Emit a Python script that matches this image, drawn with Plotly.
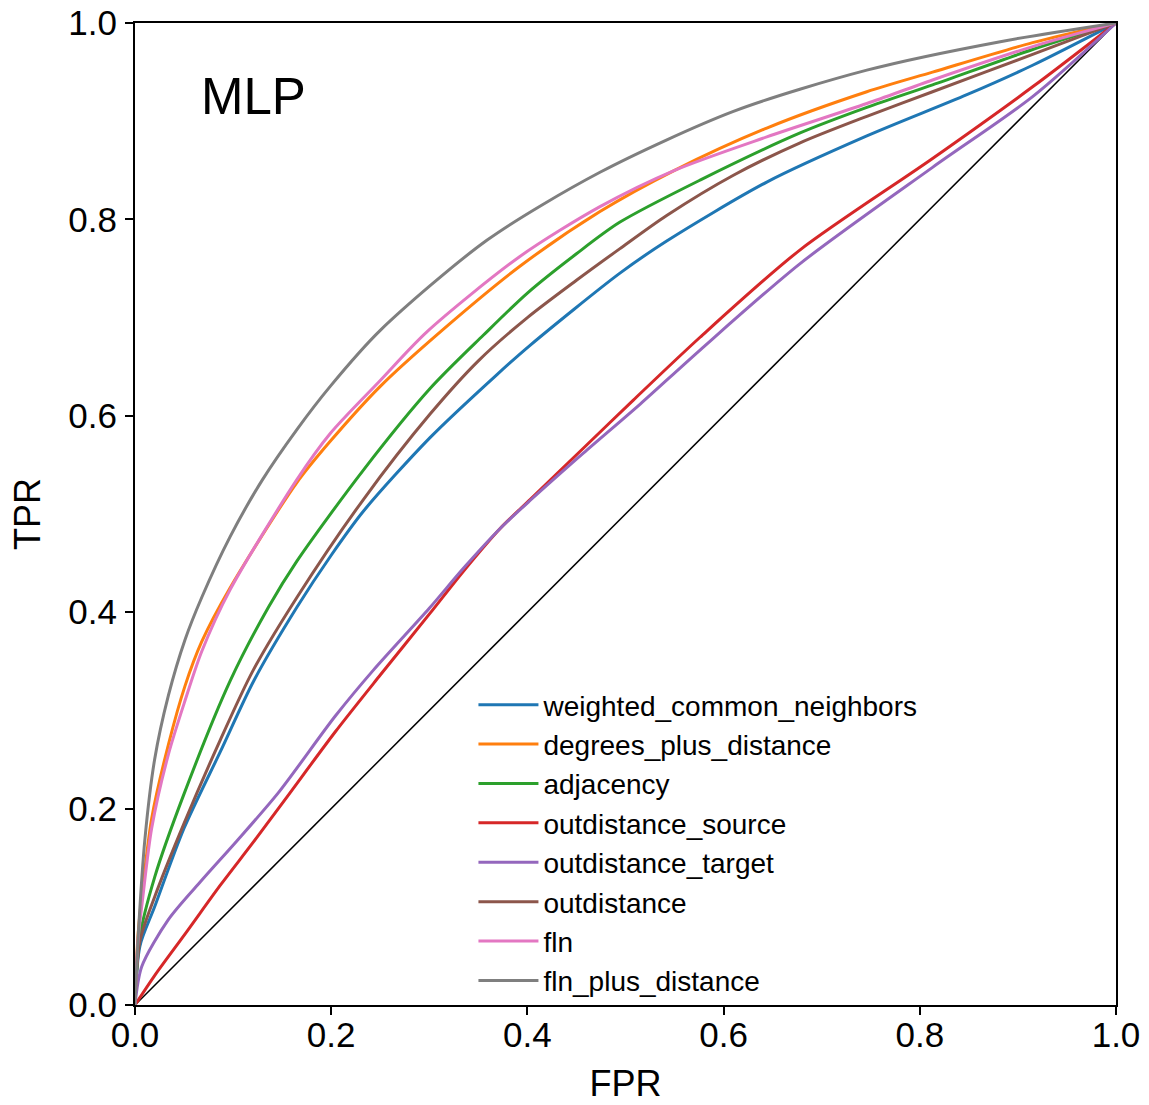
import plotly.graph_objects as go

# ---- data ----
names = ["weighted_common_neighbors", "degrees_plus_distance", "adjacency",
         "outdistance_source", "outdistance_target", "outdistance", "fln",
         "fln_plus_distance"]
colors = ["#1f77b4", "#ff7f0e", "#2ca02c", "#d62728", "#9467bd", "#8c564b",
          "#e377c2", "#7f7f7f"]

wcn_fpr = [0, 0.005, 0.02, 0.05, 0.087, 0.121, 0.165, 0.2, 0.233, 0.301, 0.369, 0.403, 0.494, 0.542, 0.644, 0.746, 0.848, 0.915, 1]
wcn_tpr = [0, 0.06, 0.10, 0.18, 0.258, 0.33, 0.405, 0.458, 0.503, 0.578, 0.642, 0.672, 0.745, 0.778, 0.838, 0.885, 0.927, 0.957, 1]

dpd_fpr = [0, 0.003, 0.008, 0.017, 0.034, 0.051, 0.068, 0.097, 0.165, 0.199, 0.25, 0.313, 0.392, 0.474, 0.55, 0.644, 0.746, 0.813, 0.915, 1]
dpd_tpr = [0, 0.07, 0.12, 0.19, 0.265, 0.325, 0.37, 0.425, 0.532, 0.574, 0.63, 0.687, 0.752, 0.808, 0.85, 0.893, 0.93, 0.95, 0.98, 1]

adj_fpr = [0, 0.005, 0.02, 0.05, 0.097, 0.136, 0.165, 0.233, 0.301, 0.355, 0.40, 0.45, 0.494, 0.576, 0.678, 0.746, 0.813, 0.915, 1]
adj_tpr = [0, 0.07, 0.13, 0.215, 0.33, 0.405, 0.452, 0.545, 0.628, 0.682, 0.725, 0.765, 0.797, 0.84, 0.888, 0.914, 0.937, 0.973, 1]

ods_fpr = [0, 0.02, 0.053, 0.087, 0.12, 0.155, 0.204, 0.25, 0.30, 0.335, 0.372, 0.403, 0.457, 0.508, 0.576, 0.678, 0.813, 0.915, 1]
ods_tpr = [0, 0.03, 0.075, 0.122, 0.165, 0.212, 0.278, 0.336, 0.398, 0.442, 0.485, 0.515, 0.567, 0.616, 0.68, 0.769, 0.862, 0.935, 1]

odt_fpr = [0, 0.0068, 0.034, 0.068, 0.102, 0.146, 0.204, 0.243, 0.30, 0.335, 0.372, 0.403, 0.457, 0.515, 0.576, 0.678, 0.813, 0.915, 1]
odt_tpr = [0, 0.039, 0.087, 0.127, 0.165, 0.216, 0.294, 0.341, 0.404, 0.445, 0.485, 0.514, 0.562, 0.612, 0.667, 0.755, 0.853, 0.925, 1]

od_fpr = [0, 0.005, 0.02, 0.05, 0.087, 0.12, 0.165, 0.233, 0.301, 0.35, 0.40, 0.45, 0.494, 0.542, 0.61, 0.678, 0.746, 0.813, 0.915, 1]
od_tpr = [0, 0.065, 0.11, 0.185, 0.27, 0.34, 0.415, 0.515, 0.602, 0.656, 0.70, 0.738, 0.77, 0.804, 0.845, 0.878, 0.905, 0.93, 0.968, 1]

fln_fpr = [0, 0.003, 0.008, 0.017, 0.034, 0.051, 0.068, 0.097, 0.165, 0.199, 0.25, 0.297, 0.392, 0.474, 0.55, 0.644, 0.746, 0.813, 0.915, 1]
fln_tpr = [0, 0.065, 0.11, 0.18, 0.255, 0.31, 0.36, 0.423, 0.535, 0.582, 0.636, 0.685, 0.762, 0.813, 0.85, 0.884, 0.918, 0.942, 0.976, 1]

flnd_fpr = [0, 0.0034, 0.0102, 0.02, 0.034, 0.051, 0.068, 0.097, 0.13, 0.165, 0.199, 0.25, 0.359, 0.474, 0.61, 0.746, 0.882, 1]
flnd_tpr = [0, 0.073, 0.17, 0.25, 0.315, 0.372, 0.415, 0.477, 0.535, 0.586, 0.63, 0.687, 0.779, 0.848, 0.91, 0.952, 0.981, 1]

diag = [0, 1]
ticks = [0.0, 0.2, 0.4, 0.6, 0.8, 1.0]
tick_labels = ["0.0", "0.2", "0.4", "0.6", "0.8", "1.0"]

series_x = [wcn_fpr, dpd_fpr, adj_fpr, ods_fpr, odt_fpr, od_fpr, fln_fpr, flnd_fpr]
series_y = [wcn_tpr, dpd_tpr, adj_tpr, ods_tpr, odt_tpr, od_tpr, fln_tpr, flnd_tpr]

FONT = "Liberation Sans, Arial, sans-serif"

fig = go.Figure()
fig.add_trace(go.Scatter(x=diag, y=diag, mode="lines",
                         line=dict(color="black", width=1.5),
                         showlegend=False, hoverinfo="skip"))
for nm, c, xs, ys in zip(names, colors, series_x, series_y):
    fig.add_trace(go.Scatter(x=xs, y=ys, mode="lines", name=nm,
                             line=dict(color=c, width=3, shape="spline", smoothing=0.8)))

axis_common = dict(range=[0, 1], tickvals=ticks, ticktext=tick_labels,
                   ticks="outside", ticklen=8, tickwidth=2, tickcolor="black",
                   showline=True, linewidth=2, linecolor="black", mirror=True,
                   showgrid=False, zeroline=False, automargin=False,
                   ticklabeloverflow="allow",
                   tickfont=dict(family=FONT, size=35, color="black"))

fig.update_xaxes(**axis_common, ticklabelstandoff=-10,
                 title=dict(text="FPR", font=dict(family=FONT, size=36, color="black"), standoff=18))
fig.update_yaxes(**axis_common, ticklabelstandoff=1,
                 title=dict(text="TPR", font=dict(family=FONT, size=36, color="black"), standoff=17))

fig.add_annotation(x=0.065, y=0.925, xref="x", yref="y", text="MLP", showarrow=False,
                   xanchor="left", yanchor="middle",
                   font=dict(family=FONT, size=51, color="black"))

fig.update_layout(
    width=1149, height=1105,
    margin=dict(l=135, r=33, t=23, b=100),
    plot_bgcolor="white", paper_bgcolor="white",
    font=dict(family=FONT, color="black"),
    hovermode=False,
    legend=dict(x=0.345, y=0.331, xanchor="left", yanchor="top",
                bgcolor="rgba(255,255,255,0)", borderwidth=0,
                font=dict(family=FONT, size=28, color="black"),
                itemwidth=60, tracegroupgap=0),
)

# remove the default 8 px page margin so the figure fills the window exactly
fig.write_html("out.html", config={"displayModeBar": False},
               post_script="document.body.style.margin='0px';")
